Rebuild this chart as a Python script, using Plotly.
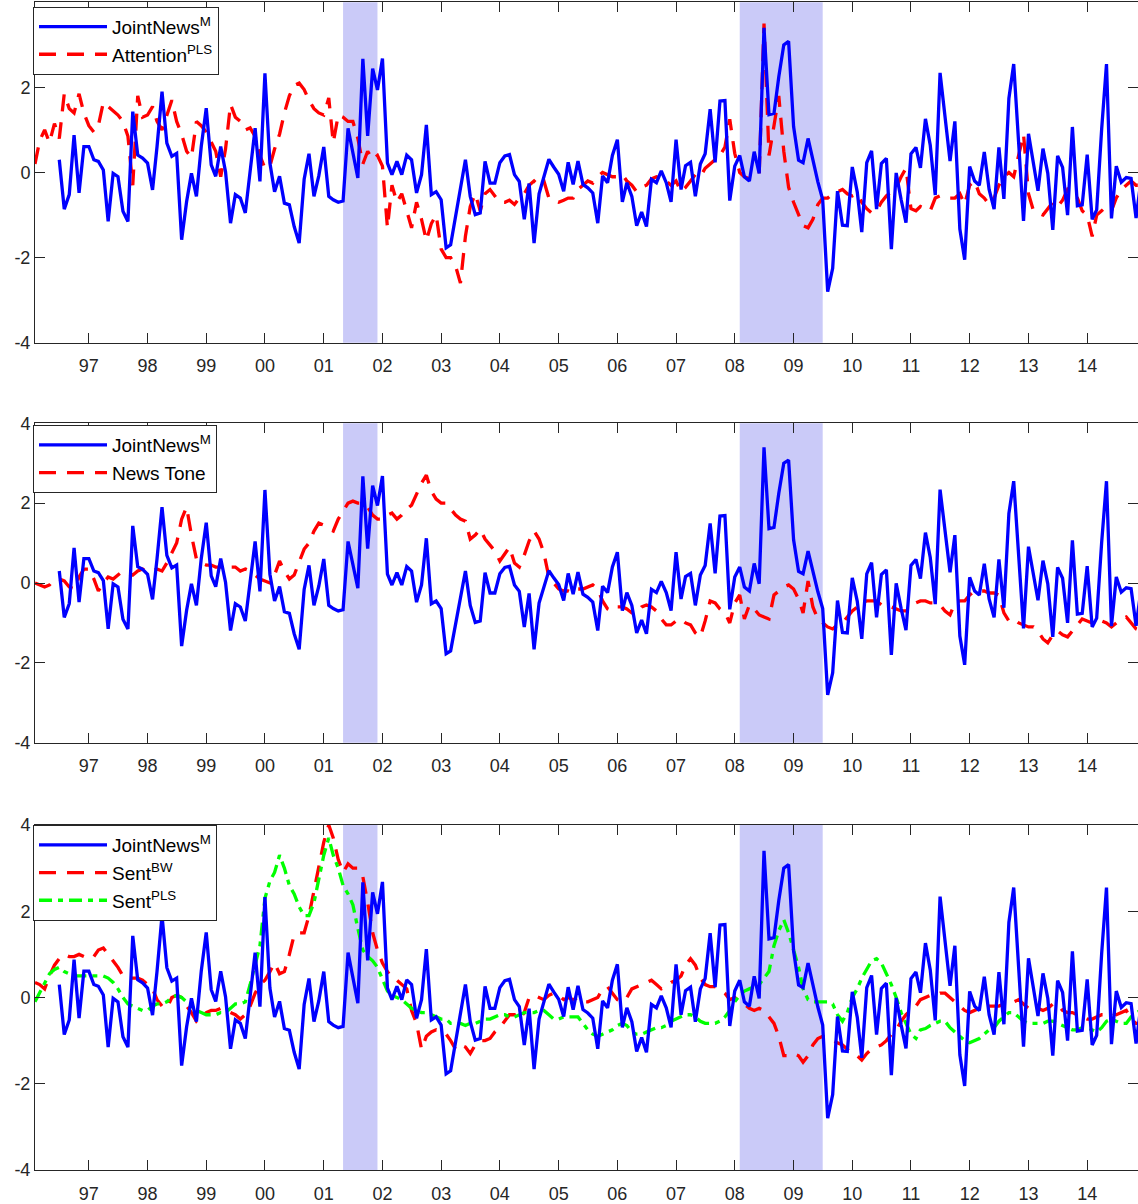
import plotly.graph_objects as go
import pandas as pd

# ---------------- data (monthly) ----------------
# JointNews^M : Jul 1996 .. Dec 2014
joint_news = [
    0.30, -0.86, -0.52, 0.88, -0.48, 0.61,
    0.61, 0.30, 0.26, 0.06, -1.15, -0.02, -0.10, -0.91, -1.15, 1.43, 0.41, 0.34,
    0.22, -0.41, 0.61, 1.90, 0.69, 0.38, 0.45, -1.58, -0.68, -0.02, -0.56, 0.61,
    1.51, 0.18, -0.09, 0.61, 0.02, -1.19, -0.52, -0.60, -0.95, -0.02, 1.04, -0.21,
    2.33, 0.22, -0.45, -0.09, -0.72, -0.76, -1.27, -1.66, -0.16, 0.44, -0.56, -0.08,
    0.60, -0.56, -0.64, -0.70, -0.67, 1.04, 0.43, -0.13, 2.67, 0.86, 2.44, 1.94,
    2.68, 0.22, -0.05, 0.26, -0.05, 0.41, 0.30, -0.48, -0.05, 1.12, -0.52, -0.45,
    -0.64, -1.77, -1.70, -1.03, -0.45, 0.30, -0.56, -0.99, -0.95, 0.26, -0.25, -0.25,
    0.23, 0.39, 0.42, -0.05, -0.21, -1.10, -0.26, -1.66, -0.50, -0.07, 0.31, 0.13,
    -0.04, -0.44, 0.24, -0.28, 0.27, -0.28, -0.36, -0.48, -1.19, -0.08, -0.24, 0.40,
    0.77, -0.69, -0.24, -0.56, -1.25, -0.93, -1.27, -0.16, -0.24, 0.04, -0.24, -0.69,
    0.77, -0.40, 0.16, 0.24, -0.56, 0.20, 0.44, 1.49, 0.24, 1.68, 1.69, -0.66,
    0.15, 0.40, -0.10, -0.20, 0.49, -0.02, 3.40, 1.36, 1.39, 2.25, 3.00, 3.08,
    1.08, 0.29, 0.23, 0.80, 0.27, -0.22, -0.64, -2.80, -2.25, -0.44, -1.24, -1.25,
    0.13, -0.46, -1.40, 0.23, 0.51, -0.86, 0.21, 0.33, -1.80, -0.01, -0.64, -1.18,
    0.44, 0.59, 0.11, 1.26, 0.64, -0.53, 2.34, 1.30, 0.27, 1.20, -1.33, -2.05,
    0.14, -0.20, -0.30, 0.48, -0.40, -0.86, 0.59, -0.62, 1.74, 2.55, 0.78, -1.14,
    0.91, 0.22, -0.43, 0.56, -0.02, -1.35, 0.39, 0.12, -1.00, 1.07, -0.78, -0.76,
    0.42, -1.10, -0.88, 1.02, 2.55, -1.08, 0.15, -0.23, -0.12, -0.14, -1.07, -0.20,
]

# Attention^PLS : Feb 1996 .. Dec 2014
attention_pls = [
    0.20, 0.75, 1.00, 0.70, 1.15, 0.80, 1.85, 1.50, 1.40, 1.85, 1.40,
    1.10, 0.95, 1.10, 1.65, 1.55, 1.45, 1.35, 1.20, 0.85, -0.30, 1.80, 1.30,
    1.35, 1.55, 1.20, 1.00, 1.35, 1.70, 1.20, 0.90, 0.50, 0.35, 1.20, 1.10,
    0.95, 0.70, 0.50, -0.10, 0.55, 1.60, 1.30, 1.20, 1.00, 1.05, 0.85, 0.40,
    0.10, 0.15, 0.55, 0.90, 1.40, 1.80, 2.05, 2.10, 1.95, 1.70, 1.50, 1.40,
    1.35, 1.75, 0.70, 1.35, 1.30, 1.20, 1.20, 0.80, 0.20, 0.50, 0.30, 0.40,
    0.15, -1.30, -0.30, -0.70, -0.50, -0.90, -1.30, -0.70, -1.10, -1.60, -1.20, -1.00,
    -1.80, -2.00, -2.00, -2.20, -2.60, -1.50, -0.80, -0.50, -0.90, -0.50, -0.40, -0.55,
    -0.70, -0.70, -0.65, -0.75, -0.60, -0.50, -0.30, -0.20, -0.30, -0.20, -0.60, -0.65,
    -0.70, -0.65, -0.60, -0.60, -0.40, -0.30, -0.20, -0.25, -0.10, 0.00, -0.05, -0.10,
    -0.10, -0.05, -0.20, -0.30, -0.45, -0.35, -0.30, -0.15, -0.10, -0.15, -0.20, -0.30,
    -0.20, -0.45, -0.35, -0.20, -0.05, -0.10, 0.10, 0.20, 0.30, 0.40, 0.60, 1.25,
    0.45, 0.00, -0.10, -0.15, -0.10, -0.05, 3.50, 0.40, 1.10, 1.80, 0.50, -0.35,
    -0.70, -1.00, -1.25, -1.30, -1.10, -0.75, -0.60, -0.60, -0.50, -0.45, -0.40, -0.50,
    -0.55, -0.50, -0.70, -0.85, -0.95, -0.90, -0.70, -0.55, -0.45, -0.35, -0.10, 0.10,
    -0.85, -0.90, -0.80, -0.85, -0.90, -0.60, -0.55, -0.55, -0.60, -0.60, -0.50, -0.75,
    -0.30, -0.20, -0.50, -0.60, -0.75, -0.60, -0.30, -0.10, 0.00, -0.10, 0.40, 0.90,
    -0.50, -0.90, -0.95, -1.00, -0.85, -0.70, -0.80, -0.65, -0.40, -0.50, -0.60, -0.90,
    -1.00, -1.50, -1.00, -0.90, -0.80, -0.90, -0.60, -0.40, -0.30, -0.20, -0.30, -0.30,
]

# News Tone : Feb 1996 .. Dec 2014
news_tone = [
    0.00, -0.05, -0.10, -0.05, 0.10, 0.10, 0.05, -0.10, -0.15, 0.15, 0.35,
    0.35, 0.10, -0.20, 0.00, 0.15, 0.10, 0.20, 0.30, 0.25, 0.20, 0.30, 0.35,
    0.30, 0.30, 0.35, 0.30, 0.50, 0.75, 1.00, 1.60, 1.90, 1.20, 0.60, 0.50,
    0.45, 0.45, 0.40, 0.40, 0.35, 0.40, 0.40, 0.30, 0.35, 0.30, 0.20, 0.10,
    0.05, 0.00, 0.20, 0.55, 0.30, 0.10, 0.20, 0.50, 0.85, 1.00, 1.30, 1.50,
    1.45, 1.35, 1.30, 1.60, 1.80, 2.00, 2.05, 2.00, 2.00, 1.90, 1.70, 1.60,
    1.60, 1.70, 1.75, 1.60, 1.70, 1.85, 1.95, 2.25, 2.50, 2.70, 2.30, 2.10,
    2.00, 2.00, 1.85, 1.70, 1.60, 1.55, 1.10, 1.20, 1.35, 1.10, 0.95, 0.80,
    0.55, 0.75, 0.90, 0.50, 0.40, 0.70, 1.05, 1.30, 1.10, 0.75, 0.15, 0.00,
    -0.15, -0.20, -0.20, -0.25, -0.15, -0.15, -0.10, -0.05, -0.15, -0.45, -0.65, -0.70,
    -0.60, -0.60, -0.65, -0.75, -0.75, -0.60, -0.55, -0.60, -0.70, -0.90, -1.05, -1.05,
    -0.95, -0.90, -1.00, -1.05, -1.25, -1.35, -0.95, -0.45, -0.50, -0.65, -0.75, -1.00,
    -0.50, -0.30, -0.90, -0.55, -0.65, -0.80, -0.85, -0.90, -0.30, -0.20, -0.10, -0.05,
    -0.15, -0.40, -0.75, 0.05, -0.60, -0.90, -1.00, -1.10, -1.15, -1.05, -1.00, -0.85,
    -0.70, -0.60, -0.50, -0.45, -0.45, -0.45, -0.55, -0.60, -0.60, -0.65, -0.70, -0.70,
    -0.60, -0.50, -0.45, -0.45, -0.50, -0.50, -0.55, -0.70, -0.80, -0.50, -0.45, -0.45,
    -0.30, -0.20, -0.20, -0.20, -0.25, -0.25, -0.30, -0.75, -0.95, -0.90, -1.00, -1.05,
    -1.10, -1.10, -1.20, -1.40, -1.50, -1.30, -1.20, -1.30, -1.35, -1.20, -1.05, -0.90,
    -0.95, -1.00, -1.05, -0.95, -1.00, -1.10, -1.00, -0.90, -0.85, -1.00, -1.15, -1.20,
]

# Sent^BW : Feb 1996 .. Dec 2014
sent_bw = [
    0.35, 0.30, 0.20, 0.50, 0.75, 0.90, 1.00, 0.95, 0.95, 1.00, 0.95,
    0.90, 0.95, 1.10, 1.15, 1.00, 0.85, 0.70, 0.50, 0.45, 0.45, 0.45, 0.40,
    0.30, 0.20, -0.05, -0.20, -0.25, 0.00, 0.05, 0.00, -0.20, -0.35, -0.55, -0.45,
    -0.35, -0.30, -0.30, -0.25, -0.30, -0.35, -0.40, -0.50, -0.40, -0.20, 0.10, 0.30,
    0.40, 0.60, 0.80, 0.55, 0.60, 1.00, 1.45, 1.50, 1.50, 1.90, 2.50, 3.00,
    3.60, 4.00, 3.70, 3.20, 2.90, 3.10, 3.00, 3.00, 2.80, 2.20, 1.50, 1.10,
    0.80, 0.60, 0.45, 0.40, 0.30, 0.20, -0.30, -0.60, -1.20, -0.90, -0.80, -0.75,
    -0.80, -0.85, -1.00, -1.20, -1.10, -1.15, -1.30, -1.10, -1.00, -1.00, -0.95, -0.80,
    -0.70, -0.55, -0.40, -0.40, -0.50, -0.35, 0.00, 0.05, 0.00, -0.05, 0.05, 0.10,
    0.05, -0.05, 0.00, -0.05, 0.00, -0.10, -0.10, -0.05, 0.00, 0.20, 0.25, 0.10,
    -0.05, -0.10, 0.00, 0.20, 0.25, 0.30, 0.35, 0.40, 0.30, 0.20, 0.25, 0.35,
    0.40, 0.50, 0.75, 0.90, 0.75, 0.45, 0.30, 0.25, 0.25, 0.20, 0.10, -0.05,
    0.00, -0.10, -0.15, -0.25, -0.30, -0.25, -0.30, -0.45, -0.60, -0.90, -1.35, -1.35,
    -1.30, -1.35, -1.50, -1.35, -1.10, -0.95, -0.90, -0.95, -1.00, -1.05, -1.10, -1.20,
    -1.30, -1.35, -1.45, -1.30, -1.20, -1.15, -1.10, -1.00, -0.85, -0.75, -0.55, -0.40,
    -0.30, -0.20, -0.05, 0.00, 0.05, 0.05, 0.10, 0.10, 0.00, -0.10, -0.20, -0.30,
    -0.35, -0.30, -0.25, -0.25, -0.20, -0.20, -0.20, -0.15, -0.15, -0.10, -0.05, -0.15,
    -0.25, -0.30, -0.25, -0.30, -0.25, -0.15, -0.15, -0.30, -0.35, -0.35, -0.40, -0.45,
    -0.50, -0.50, -0.45, -0.40, -0.40, -0.35, -0.40, -0.35, -0.30, -0.50, -0.60, -0.60,
]

# Sent^PLS : Feb 1996 .. Dec 2014
sent_pls = [
    -0.10, 0.10, 0.35, 0.55, 0.65, 0.70, 0.60, 0.55, 0.50, 0.50, 0.50,
    0.50, 0.50, 0.50, 0.50, 0.45, 0.35, 0.20, 0.00, -0.15, -0.20, -0.25, -0.30,
    -0.30, -0.20, -0.15, -0.15, -0.10, 0.00, 0.05, 0.00, -0.10, -0.20, -0.30, -0.35,
    -0.40, -0.40, -0.40, -0.35, -0.35, -0.25, -0.15, -0.15, -0.10, 0.30, 0.80, 1.20,
    2.30, 2.70, 2.90, 3.30, 3.00, 2.60, 2.40, 2.10, 1.90, 1.90, 2.20, 2.70,
    3.30, 3.70, 3.30, 3.00, 2.60, 2.40, 2.15, 1.60, 1.10, 0.95, 0.85, 0.70,
    0.40, 0.15, 0.05, 0.00, -0.05, -0.15, -0.25, -0.30, -0.35, -0.35, -0.40, -0.45,
    -0.50, -0.50, -0.60, -0.60, -0.60, -0.65, -0.60, -0.60, -0.55, -0.50, -0.50, -0.45,
    -0.40, -0.40, -0.45, -0.45, -0.40, -0.35, -0.35, -0.35, -0.30, -0.30, -0.40, -0.50,
    -0.50, -0.45, -0.45, -0.45, -0.45, -0.60, -0.75, -0.85, -0.90, -0.85, -0.80, -0.75,
    -0.65, -0.60, -0.65, -0.80, -0.85, -0.85, -0.80, -0.75, -0.70, -0.70, -0.65, -0.55,
    -0.50, -0.45, -0.40, -0.40, -0.45, -0.55, -0.60, -0.60, -0.60, -0.55, -0.45, -0.30,
    -0.10, 0.05, 0.15, 0.20, 0.25, 0.30, 0.45, 0.60, 1.20, 1.55, 1.80, 1.50,
    1.10, 0.70, 0.20, -0.05, -0.10, -0.10, -0.10, -0.10, -0.15, -0.40, -0.55, -0.35,
    0.00, 0.20, 0.45, 0.65, 0.85, 0.90, 0.80, 0.55, 0.30, 0.00, -0.35, -0.60,
    -0.85, -0.95, -0.75, -0.72, -0.65, -0.60, -0.55, -0.55, -0.70, -0.80, -0.90, -1.00,
    -1.05, -1.00, -0.95, -0.85, -0.75, -0.70, -0.55, -0.45, -0.35, -0.35, -0.45, -0.55,
    -0.60, -0.60, -0.60, -0.60, -0.55, -0.55, -0.60, -0.65, -0.70, -0.75, -0.75, -0.70,
    -0.70, -0.75, -0.80, -0.70, -0.55, -0.50, -0.55, -0.60, -0.60, -0.45, -0.35, -0.30,
]

recessions = [("2001-05-01", "2001-12-01"), ("2008-02-01", "2009-07-01")]
year_ticks = pd.date_range("1997-01-01", "2014-01-01", freq="YS")

dates_joint = pd.date_range("1996-07-01", periods=len(joint_news), freq="MS")
dates_full = pd.date_range("1996-02-01", periods=len(attention_pls), freq="MS")

# ---------------- styling ----------------
FONT = "Liberation Sans, Arial, Helvetica, sans-serif"
AX = "#262626"
BLUE = "#0000FF"
RED = "#FF0000"
GREEN = "#00FF00"
SHADE = "rgb(202,202,248)"
W, H = 1138, 1204
LEFT = 35
LW = 3.3

# panel pixel extents (top, bottom)
panels = [(2.3, 342.7), (423.3, 742.7), (825.0, 1170.0)]
legend_tops = [6.7, 425.0, 825.0]

fig = go.Figure()

def add(xs, ys, name, color, dash, k, rank):
    fig.add_trace(go.Scatter(
        x=xs, y=ys, mode="lines", name=name,
        line=dict(color=color, width=LW, dash=dash),
        xaxis="x" if k == 1 else f"x{k}",
        yaxis="y" if k == 1 else f"y{k}",
        legend="legend" if k == 1 else f"legend{k}",
        legendrank=rank,
        hoverinfo="skip",
    ))

jn = "JointNews<sup>M</sup>"
DASH = "17px,11px"
DASHDOT = "13px,6px,5px,6px"
# comparison series drawn first, JointNews on top
add(dates_full, attention_pls, "Attention<sup>PLS</sup>", RED, DASH, 1, 2)
add(dates_joint, joint_news, jn, BLUE, "solid", 1, 1)
add(dates_full, news_tone, "News Tone", RED, DASH, 2, 2)
add(dates_joint, joint_news, jn, BLUE, "solid", 2, 1)
add(dates_full, sent_bw, "Sent<sup>BW</sup>", RED, DASH, 3, 2)
add(dates_full, sent_pls, "Sent<sup>PLS</sup>", GREEN, DASHDOT, 3, 3)
add(dates_joint, joint_news, jn, BLUE, "solid", 3, 1)

layout = dict(
    width=W, height=H,
    margin=dict(l=LEFT, r=0, t=0, b=0, autoexpand=False),
    paper_bgcolor="white", plot_bgcolor="white",
    font=dict(family=FONT, size=18, color=AX),
    showlegend=True,
)

xrange = ["1996-02-01", "2014-11-13"]
for k, (top, bot) in enumerate(panels, start=1):
    sfx = "" if k == 1 else str(k)
    dom = [1 - bot / H, 1 - top / H]
    layout[f"xaxis{sfx}"] = dict(
        type="date", range=xrange, domain=[0, 1],
        anchor=f"y{sfx}", automargin=False,
        tickvals=list(year_ticks), tickformat="%y",
        ticks="inside", ticklen=10, tickwidth=1, tickcolor=AX,
        showline=True, linecolor=AX, linewidth=1, mirror="ticks",
        showgrid=False, zeroline=False,
        tickfont=dict(family=FONT, size=18, color=AX),
        ticklabelstandoff=7,
    )
    yt = [-4, -2, 0, 2] if k == 1 else [-4, -2, 0, 2, 4]
    layout[f"yaxis{sfx}"] = dict(
        range=[-4, 4], domain=dom, anchor=f"x{sfx}", automargin=False,
        tickvals=yt, ticktext=[str(v) for v in yt],
        ticks="inside", ticklen=10, tickwidth=1, tickcolor=AX,
        showline=True, linecolor=AX, linewidth=1, mirror="ticks",
        showgrid=False, zeroline=False,
        tickfont=dict(family=FONT, size=18, color=AX),
    )
    lg = "legend" if k == 1 else f"legend{k}"
    layout[lg] = dict(
        x=(33 - LEFT) / (W - LEFT), xanchor="left",
        y=1 - legend_tops[k - 1] / H, yanchor="top",
        bgcolor="white", bordercolor=AX, borderwidth=1,
        font=dict(family=FONT, size=19, color="black"),
        itemwidth=68, tracegroupgap=0,
    )

fig.update_layout(**layout)

for k in (1, 2, 3):
    sfx = "" if k == 1 else str(k)
    for x0, x1 in recessions:
        fig.add_shape(type="rect", xref=f"x{sfx}", yref=f"y{sfx} domain",
                      x0=x0, x1=x1, y0=0, y1=1, fillcolor=SHADE,
                      line=dict(width=0), layer="below")

# remove the browser's default 8px page margin so the figure sits at (0,0)
fig.write_html(
    "out.html",
    config={"displayModeBar": False},
    post_script="document.body.style.margin='0';document.body.style.overflow='hidden';",
)
